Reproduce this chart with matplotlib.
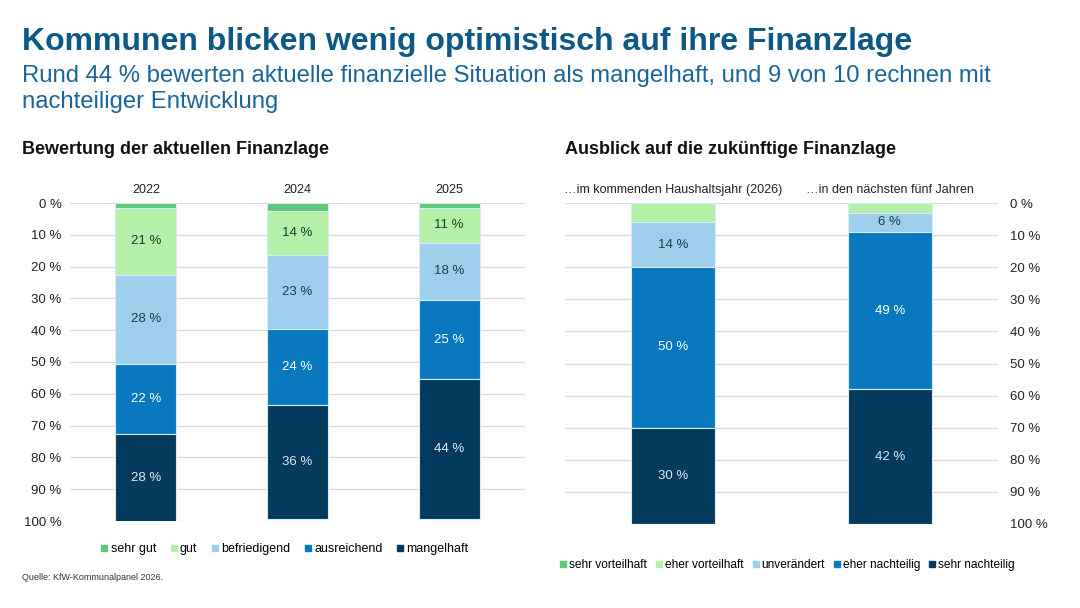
import matplotlib
matplotlib.use("Agg")
import matplotlib.pyplot as plt
from matplotlib.lines import Line2D
import numpy as np

plt.rcParams['font.family'] = ['Liberation Sans', 'DejaVu Sans']

# ---- data ----
left_categories = ["2022", "2024", "2025"]
left_series = ["sehr gut", "gut", "befriedigend", "ausreichend", "mangelhaft"]
sehr_gut = [1.5, 2.5, 1.5]
gut = [21, 14, 11]
befriedigend = [28, 23, 18]
ausreichend = [22, 24, 25]
mangelhaft = [28, 36, 44]

right_categories = ["\u2026im kommenden Haushaltsjahr (2026)", "\u2026in den nächsten fünf Jahren"]
right_series = ["sehr vorteilhaft", "eher vorteilhaft", "unverändert", "eher nachteilig", "sehr nachteilig"]
sehr_vorteilhaft = [0, 0]
eher_vorteilhaft = [6, 3]
unveraendert = [14, 6]
eher_nachteilig = [50, 49]
sehr_nachteilig = [30, 42]

y_ticks = [0, 10, 20, 30, 40, 50, 60, 70, 80, 90, 100]
y_ticklabels = [f"{t} %" for t in y_ticks]

colors = ["#5dc878", "#b5f0a8", "#9dcfec", "#0a78bf", "#053a5f"]
label_colors = [None, "#1c3d23", "#1d3a52", "#ffffff", "#d9ecf7"]

W, H = 1080, 608
fig = plt.figure(figsize=(W / 100, H / 100), dpi=100)

def px_axes(x0, y0, x1, y1):
    return fig.add_axes([x0 / W, 1 - y1 / H, (x1 - x0) / W, (y1 - y0) / H])

def draw_stack(ax, cats, series_vals, width, show_labels):
    x = np.arange(len(cats))
    bottom = np.zeros(len(cats))
    for i, vals in enumerate(series_vals):
        vals = np.array(vals, dtype=float)
        ax.bar(x, vals, width, bottom=bottom, color=colors[i],
               edgecolor="#d6ebf6", linewidth=0.8, zorder=3)
        if show_labels[i]:
            for xi, b, v in zip(x, bottom, vals):
                if v > 0:
                    ax.text(xi, b + v / 2, f"{v:.0f} %", ha="center", va="center",
                            fontsize=9.5, color=label_colors[i], zorder=4)
        bottom += vals
    ax.set_ylim(100, 0)
    ax.set_xlim(-0.5, len(cats) - 0.5)
    ax.set_yticks(y_ticks)
    ax.set_yticklabels(y_ticklabels)
    ax.yaxis.grid(True, color="#d9d9d9", linewidth=0.9, zorder=0)
    ax.set_axisbelow(True)
    for s in ax.spines.values():
        s.set_visible(False)
    ax.xaxis.tick_top()
    ax.set_xticks(x)
    ax.set_xticklabels(cats, fontsize=9, color="#222222")
    ax.tick_params(axis="both", length=0, colors="#222222")
    ax.tick_params(axis="y", labelsize=9.5)
    ax.tick_params(axis="x", pad=5)

# left chart
axL = px_axes(70, 203, 525, 521)
draw_stack(axL, left_categories, [sehr_gut, gut, befriedigend, ausreichend, mangelhaft],
           0.40, [False, True, True, True, True])
axL.tick_params(axis="y", pad=6)

# right chart
axR = px_axes(565, 203, 998, 524)
draw_stack(axR, right_categories,
           [sehr_vorteilhaft, eher_vorteilhaft, unveraendert, eher_nachteilig, sehr_nachteilig],
           0.39, [False, False, True, True, True])
axR.yaxis.tick_right()
axR.tick_params(axis="y", pad=9)

# legends
def make_handles():
    return [Line2D([0], [0], marker="s", linestyle="none", markersize=4.5,
                   markerfacecolor=c, markeredgecolor=c) for c in colors]

axL.legend(make_handles(), left_series, loc="upper center", bbox_to_anchor=(0.47, -0.035),
           ncol=5, frameon=False, fontsize=9, handletextpad=0.1, columnspacing=1.0,
           handlelength=0.8)
axR.legend(make_handles(), right_series, loc="upper left", bbox_to_anchor=(-0.04, -0.075),
           ncol=5, frameon=False, fontsize=8.6, handletextpad=0.1, columnspacing=0.6,
           handlelength=0.8)

# titles
fig.text(22 / W, 1 - 42 / H, "Kommunen blicken wenig optimistisch auf ihre Finanzlage",
         fontsize=23, fontweight="bold", color="#0d5985", va="center", ha="left")
fig.text(22 / W, 1 - 89 / H,
         "Rund 44 % bewerten aktuelle finanzielle Situation als mangelhaft, und 9 von 10 rechnen mit\nnachteiliger Entwicklung",
         fontsize=17.2, color="#1b659a", va="center", ha="left", linespacing=1.22)
fig.text(22 / W, 1 - 150 / H, "Bewertung der aktuellen Finanzlage", fontsize=13,
         fontweight="bold", color="#111111", va="center", ha="left")
fig.text(565 / W, 1 - 150 / H, "Ausblick auf die zukünftige Finanzlage", fontsize=13,
         fontweight="bold", color="#111111", va="center", ha="left")
fig.text(22 / W, 1 - 578 / H, "Quelle: KfW-Kommunalpanel 2026.", fontsize=6.5,
         color="#333333", va="center", ha="left")

fig.savefig("out.png", dpi=100)
